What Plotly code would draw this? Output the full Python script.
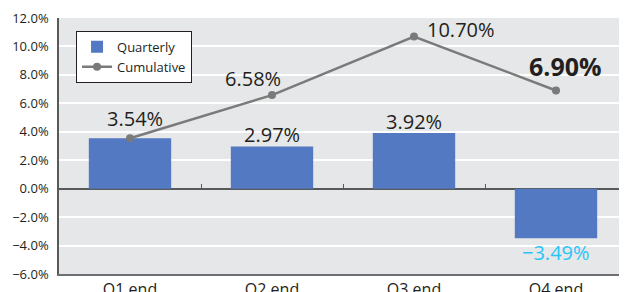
import plotly.graph_objects as go

categories = ["Q1 end", "Q2 end", "Q3 end", "Q4 end"]
quarterly = [3.54, 2.97, 3.92, -3.49]
cumulative = [3.54, 6.58, 10.70, 6.90]
y_ticks = [-6, -4, -2, 0, 2, 4, 6, 8, 10, 12]
y_tick_labels = ["\u22126.0%", "\u22124.0%", "\u22122.0%", "0.0%", "2.0%", "4.0%", "6.0%", "8.0%", "10.0%", "12.0%"]

FONT = "Open Sans"
TXT = "#231F20"
BAR = "#5279C1"
LINE = "#7A7A7A"

fig = go.Figure()
fig.add_trace(go.Bar(x=categories, y=quarterly, name="Quarterly",
                     marker=dict(color=BAR, line=dict(width=0)), width=0.58))
fig.add_trace(go.Scatter(x=categories, y=cumulative, name="Cumulative", mode="lines+markers",
                         line=dict(color=LINE, width=2.5), marker=dict(color=LINE, size=8,
                         line=dict(color="white", width=0))))
# invisible trace to carry the boundary tick axis
fig.add_trace(go.Scatter(x=categories, y=[0]*4, xaxis="x2", mode="markers",
                         marker=dict(opacity=0), showlegend=False, hoverinfo="skip"))

# bar labels (Q2..Q4) and cumulative labels
bar_shifts = [None, (0, 12), (0, 11), (0, -14)]
bar_colors = [TXT, TXT, TXT, "#29C5F6"]
for i, c in enumerate(categories):
    if bar_shifts[i] is None:
        continue
    v = quarterly[i]
    txt = ("\u2212" if v < 0 else "") + f"{abs(v):.2f}%"
    fig.add_annotation(x=c, y=v, text=txt, showarrow=False, xshift=bar_shifts[i][0],
                       yshift=bar_shifts[i][1], font=dict(family=FONT, size=20, color=bar_colors[i]))

cum_shifts = [(5, 20), (-19, 17), (47, 7), (9, 25)]
for i, c in enumerate(categories):
    v = cumulative[i]
    bold = i == len(categories) - 1
    txt = f"<b>{v:.2f}%</b>" if bold else f"{v:.2f}%"
    fig.add_annotation(x=c, y=v, text=txt, showarrow=False, xshift=cum_shifts[i][0],
                       yshift=cum_shifts[i][1],
                       font=dict(family=FONT, size=25 if bold else 20, color=TXT))

fig.update_layout(
    width=619, height=284,
    margin=dict(l=51, r=0, t=10, b=18, autoexpand=False),
    paper_bgcolor="white", plot_bgcolor="#E6E7E8",
    font=dict(family=FONT, color=TXT, size=13),
    bargap=0.42,
    showlegend=True,
    legend=dict(x=0.03, y=0.95, xanchor="left", yanchor="top", bgcolor="white",
                bordercolor="#231F20", borderwidth=1, font=dict(size=13, family=FONT),
                tracegroupgap=0, itemwidth=30),
    xaxis=dict(type="category", showgrid=False, showline=True, linecolor="#6D6E71", linewidth=1.5,
               ticks="", tickfont=dict(size=16), range=[-0.5, 3.5], zeroline=False,
               automargin=False, ticklabelstandoff=0),
    xaxis2=dict(type="category", overlaying="x", matches="x", anchor="free", position=1/3,
                showgrid=False, showline=False, ticks="inside", ticklen=5, tickcolor="#58595B",
                tickson="boundaries", showticklabels=False, zeroline=False, automargin=False),
    yaxis=dict(range=[-6, 12], tickvals=y_ticks, ticktext=y_tick_labels, showgrid=True,
               gridcolor="white", gridwidth=2, showline=True, linecolor="#58595B", linewidth=1.5,
               zeroline=True, zerolinecolor="#58595B", zerolinewidth=1.5, ticks="",
               tickfont=dict(size=13), ticklabelstandoff=6, automargin=False),
)

fig.write_html("out.html")
